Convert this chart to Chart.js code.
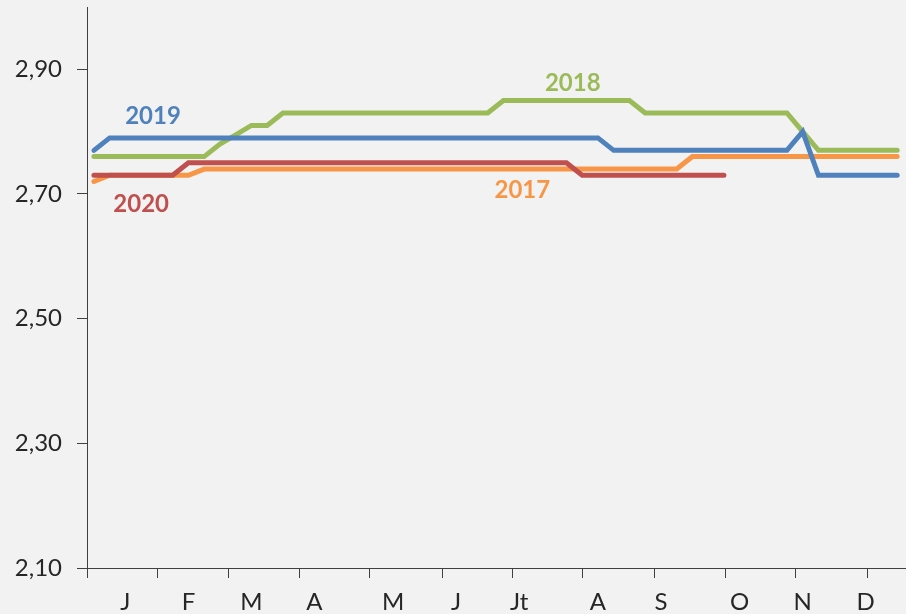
<!DOCTYPE html>
<html>
<head>
<meta charset="utf-8">
<script src="https://cdn.jsdelivr.net/npm/chart.js@4.4.1/dist/chart.umd.min.js"></script>
<style>
  html, body { margin: 0; padding: 0; background: #F2F2F2; overflow: hidden; }
  #wrap { position: absolute; left: 0; top: 0; width: 906px; height: 614px; }
</style>
</head>
<body>
<div id="wrap"><canvas id="c"></canvas></div>
<script>
// ---- data (weekly points, x = week index) ----
const series2019 = [2.77,
  2.79,2.79,2.79,2.79,2.79,2.79,2.79,2.79,2.79,2.79,2.79,2.79,2.79,2.79,2.79,2.79,
  2.79,2.79,2.79,2.79,2.79,2.79,2.79,2.79,2.79,2.79,2.79,2.79,2.79,2.79,2.79,2.79,
  2.77,2.77,2.77,2.77,2.77,2.77,2.77,2.77,2.77,2.77,2.77,2.77,
  2.80,
  2.73,2.73,2.73,2.73,2.73,2.73];
const series2018 = [2.76,2.76,2.76,2.76,2.76,2.76,2.76,2.76,
  2.78,2.795,2.81,2.81,
  2.83,2.83,2.83,2.83,2.83,2.83,2.83,2.83,2.83,2.83,2.83,2.83,2.83,2.83,
  2.85,2.85,2.85,2.85,2.85,2.85,2.85,2.85,2.85,
  2.83,2.83,2.83,2.83,2.83,2.83,2.83,2.83,2.83,2.83,
  2.80,
  2.77,2.77,2.77,2.77,2.77,2.77];
const series2017 = [2.72,
  2.73,2.73,2.73,2.73,2.73,2.73,
  2.74,2.74,2.74,2.74,2.74,2.74,2.74,2.74,2.74,2.74,2.74,2.74,2.74,2.74,2.74,2.74,
  2.74,2.74,2.74,2.74,2.74,2.74,2.74,2.74,2.74,2.74,2.74,2.74,2.74,2.74,2.74,
  2.76,2.76,2.76,2.76,2.76,2.76,2.76,2.76,2.76,2.76,2.76,2.76,2.76,2.76];
const series2020 = [2.73,2.73,2.73,2.73,2.73,2.73,
  2.75,2.75,2.75,2.75,2.75,2.75,2.75,2.75,2.75,2.75,2.75,2.75,2.75,2.75,2.75,2.75,2.75,
  2.75,2.75,2.75,2.75,2.75,2.75,2.75,2.75,
  2.73,2.73,2.73,2.73,2.73,2.73,2.73,2.73,2.73,2.73];

const seriesNames = ['2019', '2020', '2018', '2017'];
const seriesColors = ['#4F81BD', '#C0504D', '#9BBB59', '#F79646'];
const seriesValues = [series2019, series2020, series2018, series2017];
// in-chart series label anchors (x in weeks, y in value units)
const seriesLabelX = [3.75, 3.0, 30.4, 27.2];
const seriesLabelY = [2.825, 2.684, 2.878, 2.706];

const monthLabels = ['J','F','M','A','M','J','Jt','A','S','O','N','D'];
const monthLabelPos = [2, 6, 10, 14, 19, 23, 27, 32, 36, 41, 45, 49];
const monthTickPos = [-0.44, 4.06, 8.57, 13.08, 17.52, 22.10, 26.60, 31.05, 35.62, 40.13, 44.57, 49.14];
const yTicks = [2.10, 2.30, 2.50, 2.70, 2.90];
const yMin = 2.10, yMax = 3.00;
const xMin = -0.44, xMax = 51.56;

const FONT = 'Lato, "Open Sans", sans-serif';
const AXIS = '#404040';

const seriesLabelPlugin = {
  id: 'seriesLabels',
  afterDatasetsDraw(chart) {
    const ctx = chart.ctx, xs = chart.scales.x, ys = chart.scales.y;
    ctx.save();
    ctx.font = 'bold 24px ' + FONT;
    ctx.textAlign = 'center';
    ctx.textBaseline = 'middle';
    seriesNames.forEach((n, i) => {
      ctx.fillStyle = seriesColors[i];
      ctx.fillText(n, xs.getPixelForValue(seriesLabelX[i]), ys.getPixelForValue(seriesLabelY[i]));
    });
    ctx.restore();
  }
};

new Chart(document.getElementById('c'), {
  type: 'line',
  data: {
    datasets: seriesValues.map((vals, i) => ({
      label: seriesNames[i],
      data: vals.map((v, k) => ({ x: k, y: v })),
      borderColor: seriesColors[i],
      backgroundColor: seriesColors[i],
      borderWidth: 5,
      pointRadius: 0,
      tension: 0,
      borderCapStyle: 'round',
      borderJoinStyle: 'miter',
      fill: false
    }))
  },
  options: {
    responsive: true,
    maintainAspectRatio: false,
    animation: false,
    layout: { padding: { top: 7, right: 0, bottom: 0, left: 0 } },
    plugins: { legend: { display: false }, tooltip: { enabled: false }, title: { display: false } },
    scales: {
      x: {
        type: 'linear',
        min: xMin, max: xMax,
        afterBuildTicks(scale) {
          const all = monthTickPos.map(v => ({ value: v }))
            .concat(monthLabelPos.map(v => ({ value: v })));
          all.sort((a, b) => a.value - b.value);
          scale.ticks = all;
        },
        afterFit(scale) { scale.height = 46; scale.paddingLeft = 0; scale.paddingRight = 0; },
        ticks: {
          autoSkip: false, maxRotation: 0, padding: 10,
          color: '#262626',
          font: { family: FONT, size: 24 },
          callback(value) {
            const idx = monthLabelPos.indexOf(value);
            return idx >= 0 ? monthLabels[idx] : '';
          }
        },
        grid: {
          drawOnChartArea: false,
          drawTicks: true,
          tickLength: 10,
          lineWidth: 1,
          color(ctx) {
            return (ctx.tick && monthTickPos.indexOf(ctx.tick.value) >= 0) ? AXIS : 'rgba(0,0,0,0)';
          }
        },
        border: { display: true, color: AXIS, width: 1 }
      },
      y: {
        type: 'linear',
        min: yMin, max: yMax,
        afterBuildTicks(scale) { scale.ticks = yTicks.map(v => ({ value: v })); },
        afterFit(scale) { scale.width = 87; scale.paddingTop = 0; scale.paddingBottom = 0; },
        ticks: {
          padding: 15,
          color: '#262626',
          font: { family: FONT, size: 24 },
          callback(value) { return value.toFixed(2).replace('.', ','); }
        },
        grid: { drawOnChartArea: false, drawTicks: true, tickLength: 10, color: AXIS, lineWidth: 1 },
        border: { display: true, color: AXIS, width: 1 }
      }
    }
  },
  plugins: [seriesLabelPlugin]
});
</script>
</body>
</html>
